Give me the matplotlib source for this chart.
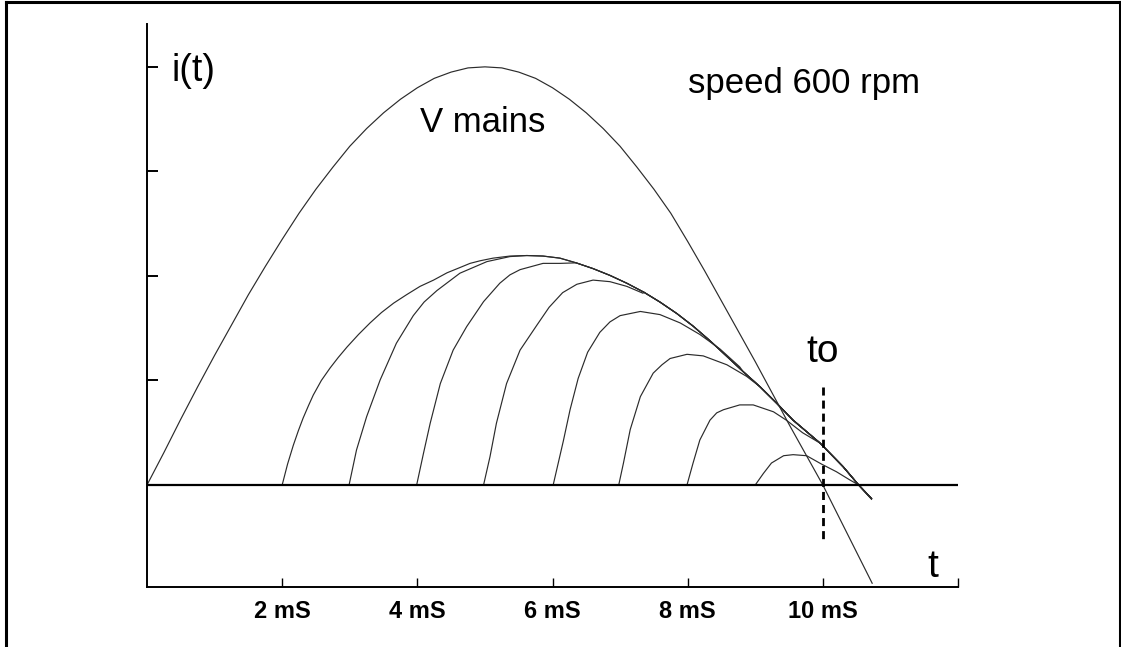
import matplotlib
matplotlib.use("Agg")
import matplotlib.pyplot as plt
from matplotlib.lines import Line2D

# values (t in ms, current in tick units)
v_mains_t = [0, 0.25, 0.5, 0.75, 1, 1.25, 1.5, 1.75, 2, 2.25, 2.5, 2.75, 3, 3.25,
             3.5, 3.75, 4, 4.25, 4.5, 4.75, 5, 5.25, 5.5, 5.75, 6, 6.25, 6.5,
             6.75, 7, 7.25, 7.5, 7.75, 8, 8.25, 8.5, 8.75, 9, 9.25, 9.5, 9.75,
             10, 10.73]
v_mains_i = [0, 0.31, 0.63, 0.94, 1.24, 1.53, 1.82, 2.09, 2.35, 2.60, 2.83, 3.04,
             3.24, 3.41, 3.56, 3.69, 3.80, 3.89, 3.95, 3.99, 4.0, 3.99, 3.95, 3.89,
             3.80, 3.69, 3.56, 3.41, 3.24, 3.04, 2.83, 2.60, 2.33, 2.05, 1.76,
             1.47, 1.18, 0.88, 0.58, 0.29, 0.0, -0.94]

# outer curve (firing at 2 ms), the others merge into it
env_t = [2.0, 2.08, 2.165, 2.24, 2.31, 2.39, 2.46, 2.58, 2.71, 2.83, 2.96, 3.13,
         3.30, 3.47, 3.65, 3.84, 4.04, 4.24, 4.44, 4.63, 4.78, 4.93, 5.12, 5.37,
         5.62, 5.86, 6.11, 6.35, 6.60, 6.85, 7.10, 7.35, 7.59, 7.84, 8.08, 8.33,
         8.58, 8.82, 9.07, 9.32, 9.56, 9.96, 10.30, 10.53, 10.72]
env_i = [0, 0.20, 0.38, 0.52, 0.64, 0.76, 0.86, 1.00, 1.12, 1.22, 1.32, 1.44,
         1.55, 1.65, 1.74, 1.82, 1.90, 1.96, 2.03, 2.08, 2.12, 2.145, 2.17, 2.19,
         2.195, 2.19, 2.17, 2.125, 2.07, 2.005, 1.93, 1.845, 1.75, 1.64, 1.52,
         1.38, 1.23, 1.085, 0.94, 0.78, 0.62, 0.40, 0.175, 0.0, -0.13]

c3_t = [2.99, 3.10, 3.25, 3.45, 3.69, 3.94, 4.10, 4.29, 4.63, 5.03, 5.37]
c3_i = [0, 0.335, 0.654, 1.005, 1.356, 1.62, 1.75, 1.86, 2.026, 2.137, 2.185]

c4_t = [3.99, 4.09, 4.19, 4.34, 4.53, 4.73, 4.98, 5.22, 5.37, 5.52, 5.86, 6.11]
c4_i = [0, 0.30, 0.59, 0.97, 1.29, 1.515, 1.754, 1.93, 2.01, 2.06, 2.12, 2.12]

c5_t = [4.98, 5.075, 5.17, 5.32, 5.52, 5.77, 5.95, 6.15, 6.36, 6.60, 6.85, 7.10, 7.34]
c5_i = [0, 0.27, 0.59, 0.97, 1.29, 1.53, 1.70, 1.84, 1.92, 1.96, 1.945, 1.90, 1.834]

c6_t = [6.01, 6.16, 6.26, 6.38, 6.52, 6.70, 6.85, 7.00, 7.30, 7.59, 7.89, 8.18,
        8.48, 8.77]
c6_i = [0, 0.42, 0.72, 1.02, 1.27, 1.46, 1.56, 1.62, 1.66, 1.63, 1.55, 1.44,
        1.30, 1.13]

c7_t = [6.98, 7.05, 7.15, 7.30, 7.49, 7.62, 7.74, 7.99, 8.23, 8.58, 8.87]
c7_i = [0, 0.21, 0.53, 0.845, 1.07, 1.15, 1.21, 1.25, 1.235, 1.15, 1.04]

c8_t = [7.99, 8.08, 8.18, 8.33, 8.43, 8.53, 8.77, 8.97, 9.27, 9.46, 9.70]
c8_i = [0, 0.21, 0.43, 0.62, 0.69, 0.72, 0.766, 0.766, 0.70, 0.62, 0.50]

c9_t = [9.0, 9.12, 9.24, 9.42, 9.56, 9.76, 9.98, 10.20, 10.40, 10.53, 10.72]
c9_i = [0, 0.11, 0.21, 0.28, 0.29, 0.28, 0.20, 0.127, 0.048, 0.0, -0.137]

tick_pos = [2, 4, 6, 8, 10, 12]
tick_labels = ['2 mS', '4 mS', '6 mS', '8 mS', '10 mS', '']
t_fire = 10.0


def with_tail(ts, vals):
    # after its own points a curve runs along the outer curve
    tail = [k for k, t in enumerate(env_t) if t > ts[-1]]
    return ts + [env_t[k] for k in tail], vals + [env_i[k] for k in tail]


fig = plt.figure(figsize=(11.21, 6.47), dpi=100)
ax = fig.add_axes([147 / 1121, 60 / 647, 811 / 1121, 563 / 647])
ax.set_xlim(0, 12)
ax.set_ylim(-0.976, 4.41)

line_kw = dict(color='#2b2b2b', lw=0.85)
ax.plot(v_mains_t, v_mains_i, **line_kw)
ax.plot(env_t, env_i, **line_kw)
for ts, vals in [(c3_t, c3_i), (c4_t, c4_i), (c5_t, c5_i), (c6_t, c6_i),
                 (c7_t, c7_i), (c8_t, c8_i)]:
    tt, ii = with_tail(ts, vals)
    ax.plot(tt, ii, **line_kw)
ax.plot(c9_t, c9_i, **line_kw)

ax.axhline(0, color='black', lw=1.6)
ax.plot([t_fire, t_fire], [0.935, -0.553], color='black', lw=2.0,
        linestyle=(0, (2.9, 1.8)))

for s in ['top', 'right']:
    ax.spines[s].set_visible(False)
for s in ['left', 'bottom']:
    ax.spines[s].set_linewidth(1.4)

ax.set_xticks(tick_pos)
ax.set_xticklabels(tick_labels, family=['Liberation Sans', 'DejaVu Sans'],
                   fontweight='bold', fontsize=17)
ax.tick_params(axis='x', direction='in', length=6.5, width=1.0, pad=9.5)
ax.set_yticks([1, 2, 3, 4])
ax.set_yticklabels([])
ax.tick_params(axis='y', direction='in', length=8, width=1.4)

sans = ['Liberation Sans', 'DejaVu Sans']
ax.text(0.365, 3.866, 'i(t)', family=sans, fontsize=27, va='baseline')
ax.text(4.04, 3.381, 'V mains', family=sans, fontsize=25, va='baseline')
ax.text(8.005, 3.748, 'speed 600 rpm', family=sans, fontsize=25, va='baseline')
ax.text(10.0, 1.18, 'to', family=sans, fontsize=28, ha='center', va='baseline')
ax.text(11.62, -0.877, 't', family=sans, fontsize=28, ha='center', va='baseline')

# picture frame
frame_kw = dict(color='black', lw=2.2, transform=fig.transFigure)
fig.add_artist(Line2D([5.5 / 1121, 1119.5 / 1121], [1 - 2 / 647, 1 - 2 / 647], **frame_kw))
fig.add_artist(Line2D([5.5 / 1121, 5.5 / 1121], [0, 1 - 2 / 647], **frame_kw))
fig.add_artist(Line2D([1119.5 / 1121, 1119.5 / 1121], [0, 1 - 2 / 647], **frame_kw))

fig.savefig('out.png', dpi=100)
